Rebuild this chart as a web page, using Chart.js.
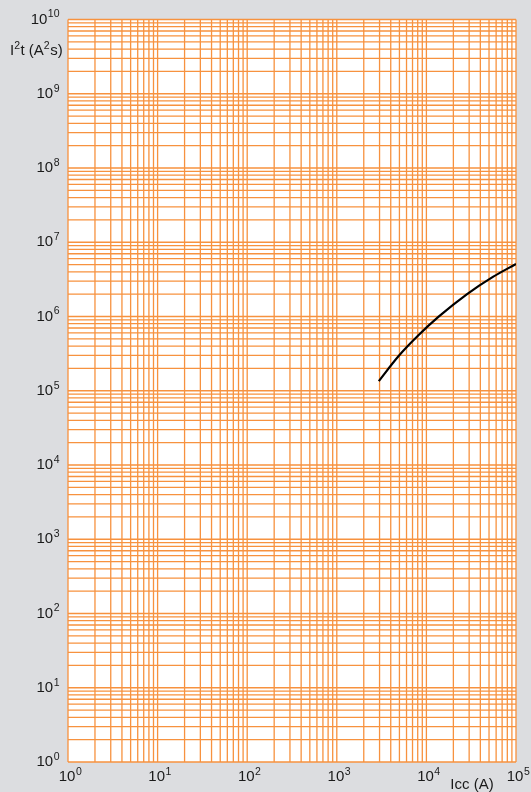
<!DOCTYPE html>
<html>
<head>
<meta charset="utf-8">
<script src="https://cdn.jsdelivr.net/npm/chart.js@4/dist/chart.umd.min.js"></script>
<style>
  html, body { margin: 0; padding: 0; background: #dcdde0; }
  #wrap { width: 531px; height: 792px; position: relative; }
</style>
</head>
<body>
<div id="wrap"><canvas id="i2tChart"></canvas></div>
<script>
// let-through energy curve, Icc in A vs I2t in A2s
const iccValues = [2940, 4900, 8200, 13700, 28200, 55800, 100000];
const i2tValues = [1.35e5, 2.94e5, 5.63e5, 9.94e5, 1.99e6, 3.44e6, 5.1e6];

// decade exponents labelled on each axis
const xExponents = [0, 1, 2, 3, 4, 5];
const yExponents = [0, 1, 2, 3, 4, 5, 6, 7, 8, 9, 10];

const GRID = "#f7923f";
const FONT = "Liberation Sans, Arial, sans-serif";

// 1..9 x 10^n for every decade, plus the closing decade
function decadeValues(exps) {
  const vals = [];
  for (let i = 0; i < exps.length; i++) {
    const base = Math.pow(10, exps[i]);
    if (i === exps.length - 1) vals.push(base);
    else for (let m = 1; m <= 9; m++) vals.push(m * base);
  }
  return vals;
}

function drawPower(ctx, x, y, base, exp, align) {
  ctx.font = `15px ${FONT}`;
  const wb = ctx.measureText(base).width;
  ctx.font = `10.5px ${FONT}`;
  const we = ctx.measureText(exp).width;
  let left = x;
  if (align === "right") left = x - wb - we;
  if (align === "center") left = x - (wb + we) / 2;
  ctx.textBaseline = "middle";
  ctx.textAlign = "left";
  ctx.font = `15px ${FONT}`;
  ctx.fillText(base, left, y);
  ctx.font = `10.5px ${FONT}`;
  ctx.fillText(exp, left + wb + 0.5, y - 5);
}

// white plot area and the orange log grid, drawn under the curve
const plotGrid = {
  id: "plotGrid",
  beforeDatasetsDraw(chart) {
    const { ctx, chartArea } = chart;
    const xs = chart.scales.x;
    const ys = chart.scales.y;
    ctx.save();
    ctx.fillStyle = "#ffffff";
    ctx.fillRect(chartArea.left, chartArea.top, chartArea.right - chartArea.left, chartArea.bottom - chartArea.top);
    ctx.strokeStyle = GRID;
    ctx.lineWidth = 1.3;
    ctx.beginPath();
    decadeValues(xExponents).forEach((v) => {
      const px = xs.getPixelForValue(v);
      ctx.moveTo(px, chartArea.top);
      ctx.lineTo(px, chartArea.bottom);
    });
    decadeValues(yExponents).forEach((v) => {
      const py = ys.getPixelForValue(v);
      ctx.moveTo(chartArea.left, py);
      ctx.lineTo(chartArea.right, py);
    });
    ctx.stroke();
    ctx.restore();
  }
};

const powerLabels = {
  id: "powerLabels",
  afterDraw(chart) {
    const ctx = chart.ctx;
    const xs = chart.scales.x;
    const ys = chart.scales.y;
    ctx.save();
    ctx.fillStyle = "#1a1a1a";
    yExponents.forEach((e) => {
      drawPower(ctx, 59, ys.getPixelForValue(Math.pow(10, e)), "10", String(e), "right");
    });
    xExponents.forEach((e) => {
      drawPower(ctx, xs.getPixelForValue(Math.pow(10, e)) + 2, 777, "10", String(e), "center");
    });

    // axis titles
    ctx.textBaseline = "middle";
    ctx.textAlign = "left";
    let x = 10;
    const parts = [["I", 0], ["2", 1], ["t (A", 0], ["2", 1], ["s)", 0]];
    parts.forEach(([t, sup]) => {
      ctx.font = sup ? `10.5px ${FONT}` : `15px ${FONT}`;
      ctx.fillText(t, x, sup ? 46 : 51);
      x += ctx.measureText(t).width + (sup ? 0.5 : 0);
    });
    ctx.font = `15px ${FONT}`;
    ctx.textAlign = "center";
    ctx.fillText("Icc (A)", 472, 785);
    ctx.restore();
  }
};

const axisBase = (exps) => ({
  type: "logarithmic",
  min: Math.pow(10, exps[0]),
  max: Math.pow(10, exps[exps.length - 1]),
  ticks: { display: false },
  grid: { display: false, drawTicks: false },
  border: { display: false }
});

new Chart(document.getElementById("i2tChart"), {
  type: "scatter",
  data: {
    datasets: [{
      data: iccValues.map((v, i) => ({ x: v, y: i2tValues[i] })),
      showLine: true,
      borderColor: "#000000",
      borderWidth: 2.2,
      pointRadius: 0,
      cubicInterpolationMode: "monotone"
    }]
  },
  options: {
    responsive: true,
    maintainAspectRatio: false,
    animation: false,
    layout: { padding: { left: 68, right: 15, top: 19.5, bottom: 30 } },
    plugins: { legend: { display: false }, tooltip: { enabled: false } },
    scales: {
      x: axisBase(xExponents),
      y: axisBase(yExponents)
    }
  },
  plugins: [plotGrid, powerLabels]
});
</script>
</body>
</html>
